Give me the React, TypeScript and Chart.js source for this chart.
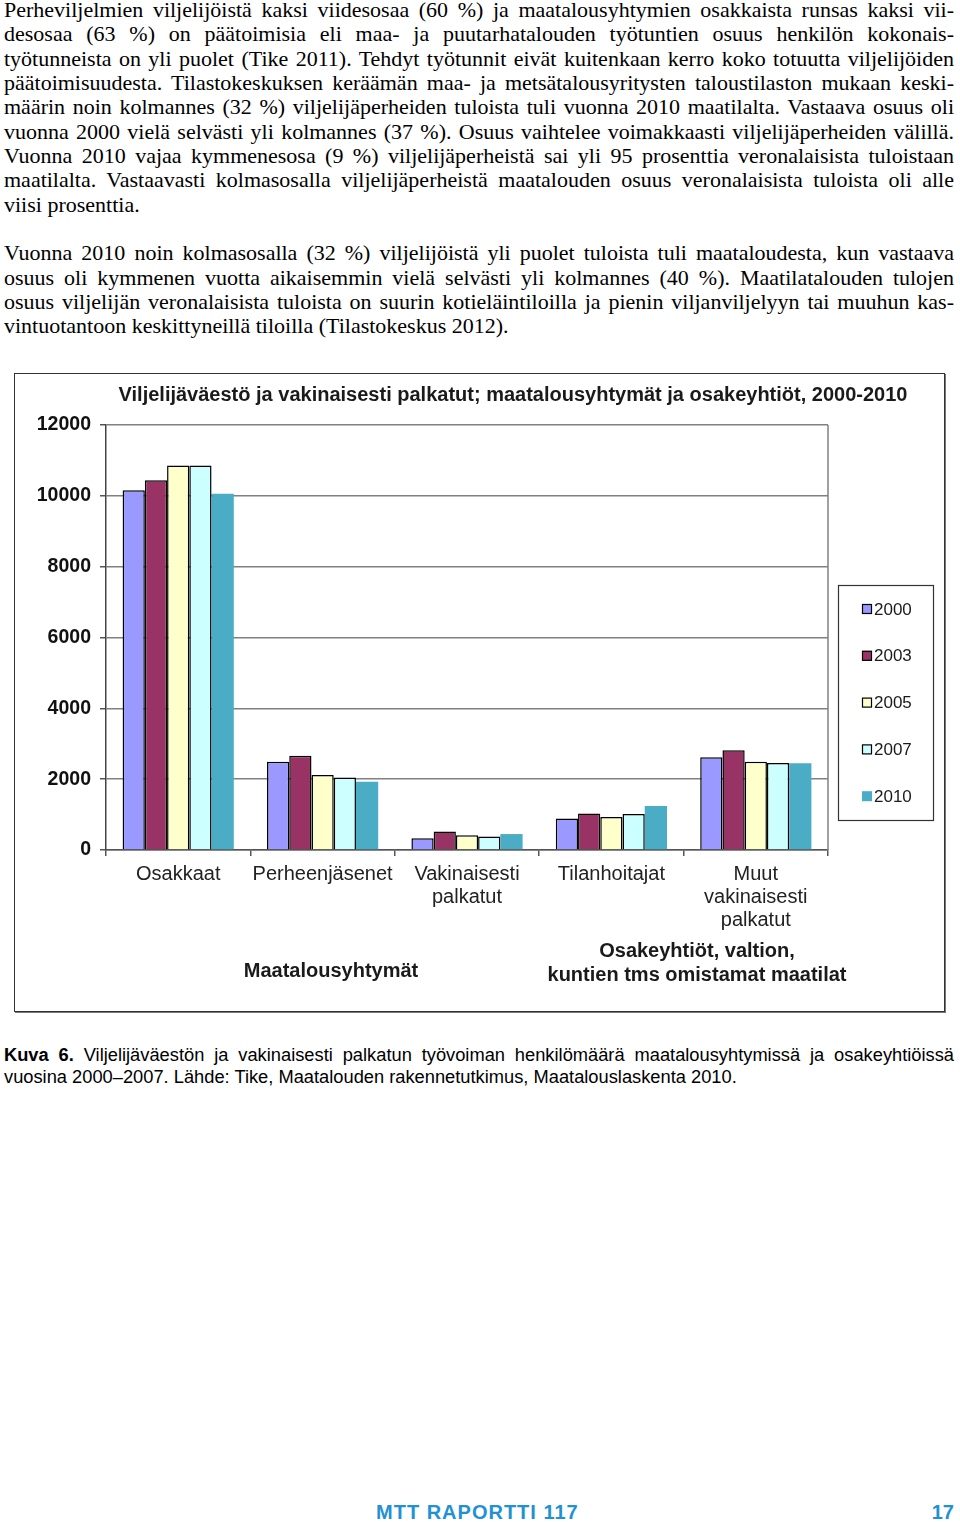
import React, { useEffect, useRef } from "react";
import { Chart, registerables } from "chart.js";

Chart.register(...registerables);

// ---- data ----
const categories: string[][] = [
  ["Osakkaat"],
  ["Perheenjäsenet"],
  ["Vakinaisesti", "palkatut"],
  ["Tilanhoitajat"],
  ["Muut", "vakinaisesti", "palkatut"],
];
const years = ["2000", "2003", "2005", "2007", "2010"];
const values2000 = [10160, 2490, 330, 890, 2620];
const values2003 = [10440, 2660, 520, 1030, 2820];
const values2005 = [10860, 2120, 420, 930, 2490];
const values2007 = [10860, 2050, 380, 1020, 2460];
const values2010 = [10060, 1930, 450, 1240, 2450];
const yMin = 0;
const yMax = 12000;
const yStep = 2000;

const chartTitle =
  "Viljelijäväestö ja vakinaisesti palkatut; maatalousyhtymät ja osakeyhtiöt, 2000-2010";
const groupLabel1 = ["Maatalousyhtymät"];
const groupLabel2 = ["Osakeyhtiöt, valtion,", "kuntien tms omistamat maatilat"];

const paragraph1 = [
  "Perheviljelmien viljelijöistä kaksi viidesosaa (60 %) ja maatalousyhtymien osakkaista runsas kaksi vii-",
  "desosaa (63 %) on päätoimisia eli maa- ja puutarhatalouden työtuntien osuus henkilön kokonais-",
  "työtunneista on yli puolet (Tike 2011). Tehdyt työtunnit eivät kuitenkaan kerro koko totuutta viljelijöiden",
  "päätoimisuudesta. Tilastokeskuksen keräämän maa- ja metsätalousyritysten taloustilaston mukaan keski-",
  "määrin noin kolmannes (32 %) viljelijäperheiden tuloista tuli vuonna 2010 maatilalta. Vastaava osuus oli",
  "vuonna 2000 vielä selvästi yli kolmannes (37 %). Osuus vaihtelee voimakkaasti viljelijäperheiden välillä.",
  "Vuonna 2010 vajaa kymmenesosa (9 %) viljelijäperheistä sai yli 95 prosenttia veronalaisista tuloistaan",
  "maatilalta. Vastaavasti kolmasosalla viljelijäperheistä maatalouden osuus veronalaisista tuloista oli alle",
  "viisi prosenttia.",
];
const paragraph2 = [
  "Vuonna 2010 noin kolmasosalla (32 %) viljelijöistä yli puolet tuloista tuli maataloudesta, kun vastaava",
  "osuus oli kymmenen vuotta aikaisemmin vielä selvästi yli kolmannes (40 %). Maatilatalouden tulojen",
  "osuus viljelijän veronalaisista tuloista on suurin kotieläintiloilla ja pienin viljanviljelyyn tai muuhun kas-",
  "vintuotantoon keskittyneillä tiloilla (Tilastokeskus 2012).",
];
const captionBold = "Kuva 6.";
const captionLine1 =
  " Viljelijäväestön ja vakinaisesti palkatun työvoiman henkilömäärä maatalousyhtymissä ja osakeyhtiöissä";
const captionLine2 =
  "vuosina 2000–2007. Lähde: Tike, Maatalouden rakennetutkimus, Maatalouslaskenta 2010.";
const footerLeft = "MTT RAPORTTI 117";
const footerRight = "17";

const seriesValues = [values2000, values2003, values2005, values2007, values2010];
const seriesColors = ["#9999FF", "#993366", "#FFFFCC", "#CCFFFF", "#4BACC6"];
const seriesBorder = [1.5, 1.5, 1.5, 1.5, 0];

const FONT = '"Liberation Sans", Arial, sans-serif';

const overlayPlugin = {
  id: "overlay",
  afterDraw(chart: any) {
    const ctx = chart.ctx as CanvasRenderingContext2D;
    const { top, bottom, right } = chart.chartArea;
    ctx.save();
    ctx.strokeStyle = "#808080";
    ctx.lineWidth = 1.5;
    ctx.beginPath();
    ctx.moveTo(right, top);
    ctx.lineTo(right, bottom);
    ctx.stroke();

    ctx.fillStyle = "#1a1a1a";
    ctx.textAlign = "center";
    ctx.textBaseline = "middle";
    ctx.font = "bold 20px " + FONT;
    ctx.fillText(chartTitle, 499, 22);

    ctx.font = "bold 20px " + FONT;
    groupLabel1.forEach((t, i) => ctx.fillText(t, 317, 598 + i * 24));
    groupLabel2.forEach((t, i) => ctx.fillText(t, 683, 578 + i * 24));

    ctx.strokeStyle = "#333";
    ctx.lineWidth = 1.2;
    ctx.strokeRect(824.5, 212.5, 95, 235);
    ctx.font = "17px " + FONT;
    ctx.textAlign = "left";
    chart.data.datasets.forEach((ds: any, i: number) => {
      const cy = 236 + i * 46.8;
      ctx.fillStyle = ds.backgroundColor;
      ctx.fillRect(848, cy - 5, 10, 10);
      if (ds.borderWidth > 0) {
        ctx.strokeStyle = "#000";
        ctx.lineWidth = 1.2;
        ctx.strokeRect(848.5, cy - 4.5, 9, 9);
      }
      ctx.fillStyle = "#1a1a1a";
      ctx.fillText(ds.label, 860, cy + 1);
    });
    ctx.restore();
  },
};

function justifiedLines(lines: string[]) {
  return lines.map((l, i) => {
    const last = i === lines.length - 1;
    return (
      <div
        key={i}
        style={{
          whiteSpace: "nowrap",
          textAlign: "justify",
          textAlignLast: last ? "left" : "justify",
          wordSpacing: last ? 0 : -2,
        } as React.CSSProperties}
      >
        {l}
      </div>
    );
  });
}

export default function App() {
  const ref = useRef<HTMLCanvasElement>(null);
  useEffect(() => {
    const chart = new Chart(ref.current!, {
      type: "bar",
      data: {
        labels: categories,
        datasets: years.map((y, i) => ({
          label: y,
          data: seriesValues[i],
          backgroundColor: seriesColors[i],
          borderColor: "#000",
          borderWidth: seriesBorder[i],
          categoryPercentage: 0.77,
          barPercentage: 1.0,
        })),
      },
      options: {
        responsive: false,
        animation: false,
        layout: { padding: { top: 52, right: 117, left: 0, bottom: 0 } },
        plugins: {
          legend: { display: false },
          title: { display: false },
          tooltip: { enabled: false },
        },
        scales: {
          x: {
            offset: true,
            grid: {
              offset: true,
              drawOnChartArea: false,
              drawTicks: true,
              tickLength: 6,
              color: "#555",
              lineWidth: 1.5,
            },
            border: { display: true, color: "#555", width: 1.5 },
            ticks: {
              autoSkip: false,
              maxRotation: 0,
              padding: 7,
              color: "#222",
              font: { family: FONT, size: 20, lineHeight: 1.15 },
            },
            afterFit(scale: any) {
              scale.height = 162;
            },
          },
          y: {
            min: yMin,
            max: yMax,
            grid: {
              color: "#808080",
              lineWidth: 1.5,
              drawTicks: true,
              tickLength: 6,
              tickColor: "#555",
            },
            border: { display: true, color: "#444", width: 1.5 },
            ticks: {
              stepSize: yStep,
              padding: 9,
              color: "#111",
              font: { family: FONT, size: 19.5, weight: "bold" },
              callback: (v: any) => String(v),
            },
            afterFit(scale: any) {
              scale.width = 92;
            },
          },
        },
      },
      plugins: [overlayPlugin],
    } as any);
    return () => chart.destroy();
  }, []);

  return (
    <div
      style={{
        position: "absolute",
        left: 0,
        top: 0,
        width: 960,
        height: 1522,
        background: "#fff",
        overflow: "hidden",
      }}
    >
      <div
        style={{
          position: "absolute",
          left: 4,
          top: -2,
          width: 950,
          fontFamily: '"Liberation Serif", "Times New Roman", serif',
          fontSize: 22,
          lineHeight: "24.33px",
          color: "#000",
        }}
      >
        {justifiedLines(paragraph1)}
        <div style={{ height: 24.33 }} />
        {justifiedLines(paragraph2)}
      </div>

      <div
        style={{
          position: "absolute",
          left: 14,
          top: 373,
          width: 929,
          height: 637,
          border: "1px solid #333",
          boxShadow: "1px 1px 0 #777",
        }}
      />
      <canvas
        ref={ref}
        width={931}
        height={639}
        style={{ position: "absolute", left: 14, top: 373, width: 931, height: 639 }}
      />

      <div
        style={{
          position: "absolute",
          left: 4,
          top: 1044,
          width: 950,
          fontFamily: FONT,
          fontSize: 18.3,
          lineHeight: "22px",
          color: "#000",
        }}
      >
        <div style={{ whiteSpace: "nowrap", textAlign: "justify", textAlignLast: "justify" } as React.CSSProperties}>
          <b>{captionBold}</b>
          {captionLine1}
        </div>
        <div style={{ whiteSpace: "nowrap" }}>{captionLine2}</div>
      </div>

      <div
        style={{
          position: "absolute",
          left: 376,
          top: 1503,
          fontFamily: FONT,
          fontWeight: 900,
          fontSize: 20,
          letterSpacing: 1,
          lineHeight: "19px",
          color: "#2291d4",
          whiteSpace: "nowrap",
        }}
      >
        {footerLeft}
      </div>
      <div
        style={{
          position: "absolute",
          left: 880,
          top: 1503,
          width: 74,
          textAlign: "right",
          fontFamily: FONT,
          fontWeight: 700,
          fontSize: 20,
          lineHeight: "19px",
          color: "#2291d4",
        }}
      >
        {footerRight}
      </div>
    </div>
  );
}
